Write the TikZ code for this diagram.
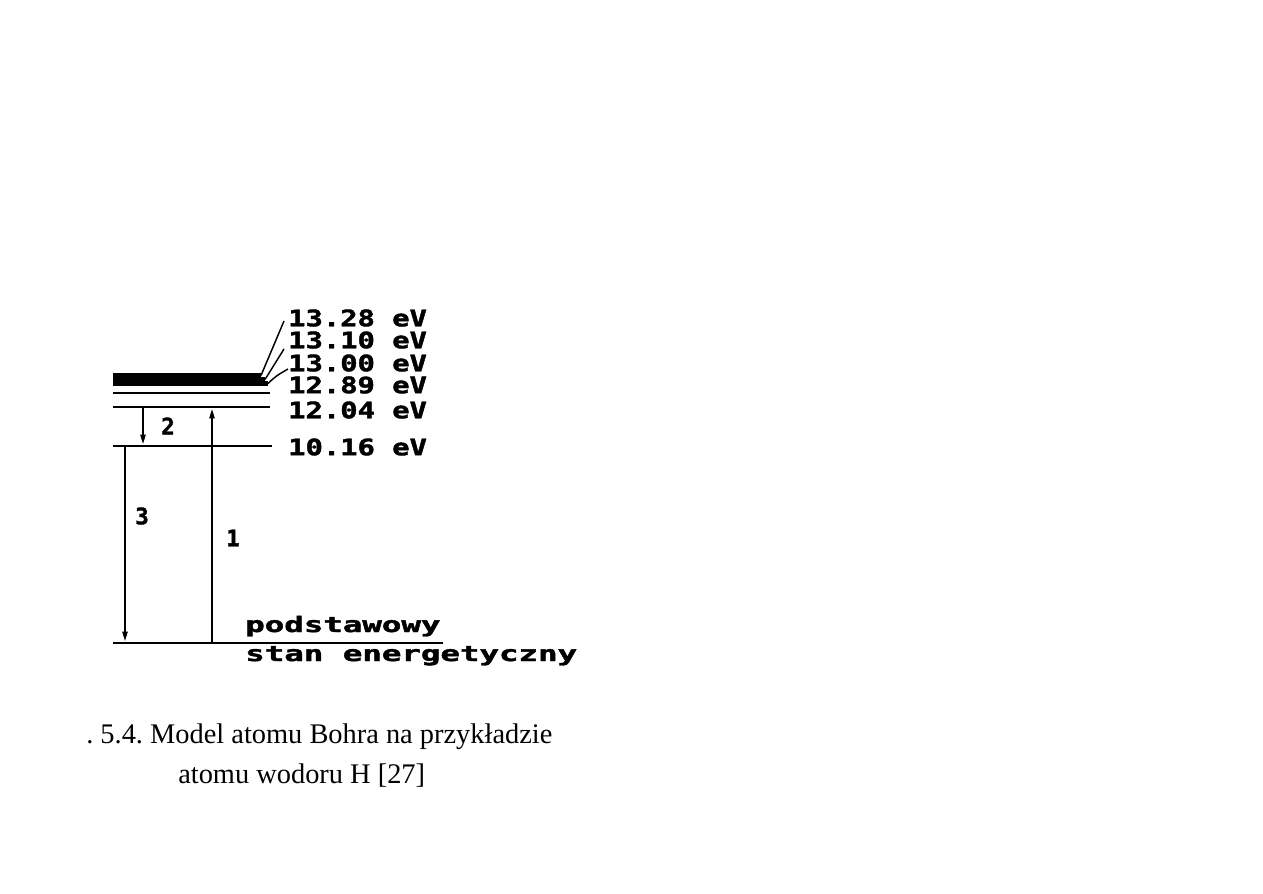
\documentclass[tikz,border=0pt]{standalone}
\usepackage{fontspec}
\usepackage{graphicx}
\setmainfont{Liberation Serif}
\newfontfamily\lblfont{DejaVu Sans Mono Bold}[FakeBold=1.6]
\usetikzlibrary{arrows.meta}
\newcommand{\lblwide}[1]{\scalebox{1.27}[1]{#1}}
\newcommand{\gndwide}[1]{\scalebox{1.52}[1]{#1}}
\frenchspacing
\begin{document}
\begin{tikzpicture}[x=0.75pt,y=-0.75pt,
  level/.style={line width=2.2pt},
  band/.style={line width=4pt},
  leader/.style={line width=1.1pt},
  trans/.style={line width=1.1pt,-{Triangle[length=7pt,width=4pt]}},
  lbl/.style={anchor=west,inner sep=0pt,font=\lblfont\fontsize{17}{17}\selectfont},
  num/.style={inner sep=0pt,font=\lblfont\fontsize{17}{17}\selectfont},
  gnd/.style={anchor=base west,inner sep=0pt,font=\lblfont\fontsize{16}{16}\selectfont},
  captxt/.style={anchor=base west,inner sep=0pt,font=\fontsize{21.3}{24}\selectfont}]
\useasboundingbox (0,0) rectangle (1263,893);

% level end points
\coordinate (g0) at (113,643);  \coordinate (g1) at (443,643);
\coordinate (a0) at (113,446);  \coordinate (a1) at (272,446);
\coordinate (b0) at (113,407);  \coordinate (b1) at (270,407);
\coordinate (c0) at (113,393);  \coordinate (c1) at (270,393);
\coordinate (d0) at (113,383.5);  \coordinate (d1) at (268,383.5);
\coordinate (e0) at (113,379.5);  \coordinate (e1) at (265,379.5);
\coordinate (f0) at (113,375.5);  \coordinate (f1) at (261,375.5);

\draw[level] (g0) -- (g1);
\draw[level] (a0) -- (a1);
\draw[level] (b0) -- (b1);
\draw[level] (c0) -- (c1);
\draw[band] (d0) -- (d1);
\draw[band] (e0) -- (e1);
\draw[band] (f0) -- (f1);

% labels
\node[lbl] (L1328) at (288,318) {\lblwide{13.28 eV}};
\node[lbl] (L1310) at (288,340) {\lblwide{13.10 eV}};
\node[lbl] (L1300) at (288,363) {\lblwide{13.00 eV}};
\node[lbl] (L1289) at (288,385) {\lblwide{12.89 eV}};
\node[lbl] (L1204) at (288,410) {\lblwide{12.04 eV}};
\node[lbl] (L1016) at (288,447) {\lblwide{10.16 eV}};

% leaders
\coordinate (p1) at (284,321);
\coordinate (p2) at (284,349);
\coordinate (p3) at (288,369);
\draw[leader] (f1) -- (p1);
\draw[leader] (e1) -- (p2);
\draw[leader] (d1) .. controls (276,376) .. (p3);

% transitions
\coordinate (t2s) at (143,408); \coordinate (t2e) at (143,444);
\coordinate (t1s) at (212,642); \coordinate (t1e) at (212,409);
\coordinate (t3s) at (125,447); \coordinate (t3e) at (125,641);
\draw[trans] (t2s) -- (t2e);
\draw[trans] (t1s) -- (t1e);
\draw[trans] (t3s) -- (t3e);

\node[num] (n2) at (168,426) {2};
\node[num] (n3) at (142,516) {3};
\node[num] (n1) at (233,538) {1};

\node[gnd] (pod) at (245,632) {\gndwide{podstawowy}};
\node[gnd] (stan) at (245,661) {\gndwide{stan energetyczny}};

\node[captxt] (cap1) at (86,743) {. 5.4. Model atomu Bohra na przykładzie};
\node[captxt] (cap2) at (178,783) {atomu wodoru H [27]};
\end{tikzpicture}
\end{document}
